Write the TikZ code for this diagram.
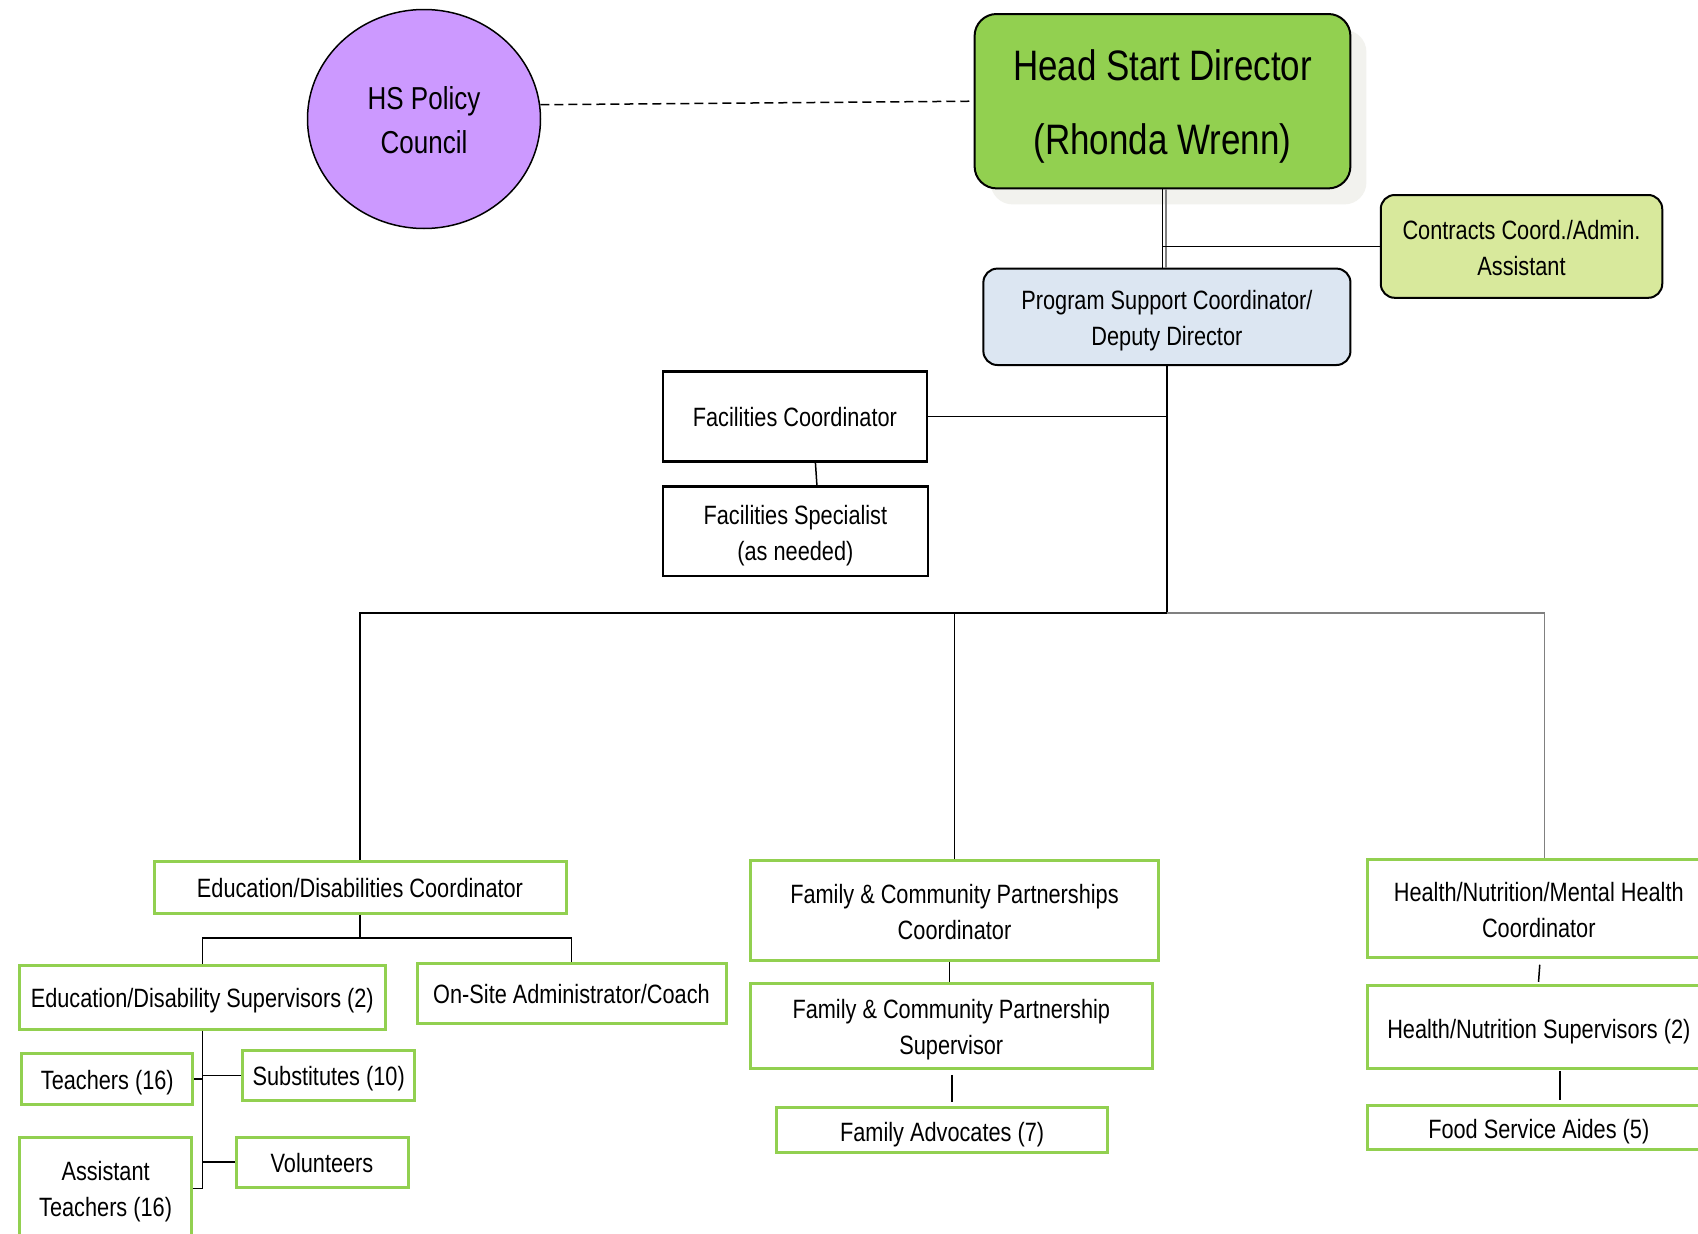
\documentclass[tikz,border=0pt]{standalone}
\usepackage{fontspec}
\setmainfont[FakeStretch=0.82]{Liberation Sans}
\usetikzlibrary{shapes.geometric}
\definecolor{grn}{HTML}{92D050}
\definecolor{lilac}{HTML}{CC99FF}
\definecolor{paleyg}{HTML}{D8E99C}
\definecolor{paleblue}{HTML}{DCE6F2}
\definecolor{shadowc}{HTML}{F2F2EE}
\definecolor{lgray}{HTML}{808080}
\tikzset{
  fnt/.style={font=\fontsize{26.5}{36}\selectfont},
  txt/.style={fnt, align=center, inner sep=0pt},
  gbox/.style={draw=grn, line width=3pt, fill=white, inner sep=0pt},
  kbox/.style={draw=black, line width=2.5pt, fill=white, inner sep=0pt},
  rbox/.style={draw=black, line width=2pt, rounded corners=14pt, inner sep=0pt},
  conn/.style={line width=1.5pt, black},
  gconn/.style={line width=1.5pt, lgray},
}
\begin{document}
\begin{tikzpicture}[x=1pt,y=-1pt]
\path[use as bounding box] (0,0) rectangle (1698,1234);
\clip (0,0) rectangle (1698,1234);
\fill[white] (0,0) rectangle (1698,1234);

% shadow of director box
\fill[shadowc, rounded corners=22pt] (990.6,30) rectangle (1366.4,204.4);

\node[draw=black, line width=1.5pt, fill=lilac, ellipse, minimum width=233, minimum height=219, inner sep=0pt] (hspc) at (424,119) {};
\node[txt, font=\fontsize{31.7}{43.5}\selectfont] (hspc-t) at ([yshift=-1pt]hspc.center) {HS Policy\\Council};

\node[draw=black, line width=2pt, fill=grn, rounded corners=22pt, minimum width=375.8, minimum height=174.4, inner sep=0pt] (hsd) at (1162.5,101.2) {};
\node[txt, font=\fontsize{42.6}{73.6}\selectfont] (hsd-t) at ([yshift=-5.4pt]hsd.center) {Head Start Director\\(Rhonda Wrenn)};

\node[rbox, fill=paleyg, minimum width=281.5, minimum height=102.8] (csa) at (1521.5,246.4) {};
\node[txt] (csa-t) at ([yshift=-1.6pt]csa.center) {Contracts Coord./Admin.\\Assistant};
\node[rbox, fill=paleblue, minimum width=367.1, minimum height=96.4] (psc) at (1166.9,316.8) {};
\node[txt] (psc-t) at ([yshift=-4.3pt]psc.center) {Program Support Coordinator/\\Deputy Director};

\node[kbox, minimum width=264.3, minimum height=89.9] (fc) at (794.9,416.4) {};
\node[txt] (fc-t) at ([yshift=-1pt]fc.center) {Facilities Coordinator};
\node[kbox, minimum width=265.3, minimum height=89.9] (fs) at (795.4,531.2) {};
\node[txt] (fs-t) at ([yshift=-4.9pt]fs.center) {Facilities Specialist\\(as needed)};

\node[gbox, minimum width=412, minimum height=52] (edc) at (360,887) {};
\node[txt] (edc-t) at ([yshift=-1pt]edc.center) {Education/Disabilities Coordinator};
\node[gbox, minimum width=365.5, minimum height=64] (eds) at (202.3,997) {};
\node[txt] (eds-t) at ([yshift=-3.2pt]eds.center) {Education/Disability Supervisors (2)};
\node[gbox, minimum width=309, minimum height=60.5] (osa) at (571.5,993.3) {};
\node[txt] (osa-t) at ([yshift=-1pt]osa.center) {On-Site Administrator/Coach};
\node[gbox, minimum width=171, minimum height=51] (tch) at (107.3,1079) {};
\node[txt] (tch-t) at ([yshift=-3.2pt]tch.center) {Teachers (16)};
\node[gbox, minimum width=172, minimum height=50] (sub) at (328.7,1075.3) {};
\node[txt] (sub-t) at ([yshift=-3.2pt]sub.center) {Substitutes (10)};
\node[gbox, minimum width=172, minimum height=50] (vol) at (322,1162) {};
\node[txt] (vol-t) at ([yshift=-1pt]vol.center) {Volunteers};
\node[gbox, minimum width=172, minimum height=104] (ast) at (105.6,1189) {};
\node[txt] (ast-t) at ([yshift=-2.7pt]ast.center) {Assistant\\Teachers (16)};

\node[gbox, minimum width=408.3, minimum height=99.5] (fcp) at (954.5,910.7) {};
\node[txt] (fcp-t) at ([yshift=-1pt]fcp.center) {Family \& Community Partnerships\\Coordinator};
\node[gbox, minimum width=401.8, minimum height=85.5] (fcps) at (951.3,1026) {};
\node[txt] (fcps-t) at ([yshift=-3.8pt]fcps.center) {Family \& Community Partnership\\Supervisor};
\node[gbox, minimum width=331.4, minimum height=44.4] (fa) at (942.1,1130) {};
\node[txt] (fa-t) at ([yshift=-4.3pt]fa.center) {Family Advocates (7)};

\node[gbox, minimum width=342.2, minimum height=97.5] (hnmh) at (1538.8,908.5) {};
\node[txt] (hnmh-t) at ([yshift=-1.6pt]hnmh.center) {Health/Nutrition/Mental Health\\Coordinator};
\node[gbox, minimum width=342.2, minimum height=83.4] (hns) at (1538.8,1027) {};
\node[txt] (hns-t) at ([yshift=-4.3pt]hns.center) {Health/Nutrition Supervisors (2)};
\node[gbox, minimum width=342.2, minimum height=43.4] (fsa) at (1538.8,1127.3) {};
\node[txt] (fsa-t) at ([yshift=-4.3pt]fsa.center) {Food Service Aides (5)};

\coordinate (bus) at (0,613);
\coordinate (edbus) at (0,937.8);

% connectors
\draw[conn, dashed, dash pattern=on 9pt off 5pt] (hspc.7.4) -- (hsd.west);
\draw[line width=1.2pt, lgray] ([xshift=3.5pt]hsd.south) -- ([xshift=3.5pt]hsd.south |- psc.north);
\draw[conn] (hsd.south) -- (hsd.south |- psc.north);
\draw[conn] (hsd.south |- csa.west) -- (csa.west);
\draw[conn] (psc.south) -- (psc.south |- bus);
\draw[conn] (fc.east) -- (psc.south |- fc.east);
\draw[conn] ([xshift=20.5pt]fc.south) -- ([xshift=21.5pt]fs.north);
\draw[conn] (edc.north) -- (edc.north |- bus) -- (psc.south |- bus);
\draw[conn] (fcp.north) -- (fcp.north |- bus);
\draw[gconn] (psc.south |- bus) -- ([xshift=5.8pt]hnmh.north |- bus) -- ([xshift=5.8pt]hnmh.north);
\draw[conn] (edc.south) -- (edc.south |- edbus);
\draw[conn] (eds.north) -- (eds.north |- edbus) -- (osa.north |- edbus) -- (osa.north);
\draw[conn] (eds.south) -- (eds.south |- vol.south) -- (ast.east |- vol.south);
\draw[conn] (tch.east) -- (eds.south |- tch.east);
\draw[conn] (sub.west) -- (eds.south |- sub.west);
\draw[conn] (vol.west) -- (eds.south |- vol.west);
\draw[conn] ([xshift=-4.8pt]fcp.south) -- ([xshift=-4.8pt]fcp.south |- fcps.north);
\draw[conn, shorten <=4.5pt, shorten >=4.5pt] ([xshift=0.6pt]fcps.south) -- ([xshift=0.6pt]fcps.south |- fa.north);
\draw[conn, shorten <=6pt, shorten >=2pt] ([xshift=1.4pt]hnmh.south) -- ([xshift=-0.4pt]hns.north);
\draw[conn, shorten <=1pt, shorten >=4pt] ([xshift=21pt]hns.south) -- ([xshift=21pt]fsa.north);
\end{tikzpicture}
\end{document}
